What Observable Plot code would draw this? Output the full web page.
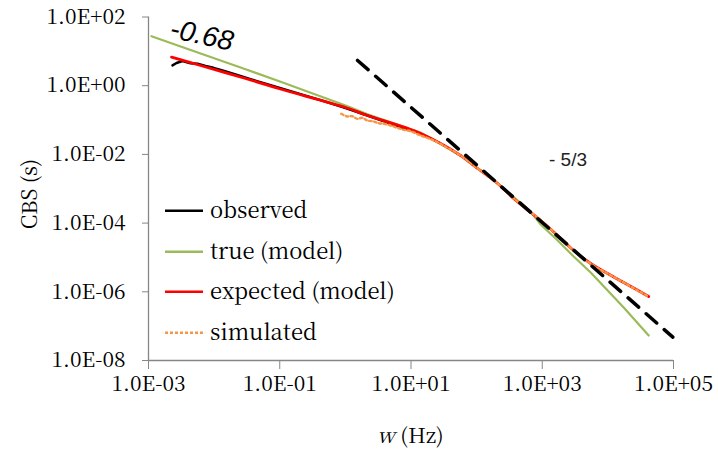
<!DOCTYPE html>
<html><head><meta charset="utf-8">
<script src="https://cdn.jsdelivr.net/npm/d3@7"></script>
<script src="https://cdn.jsdelivr.net/npm/@observablehq/plot@0.6"></script>
<style>
body{margin:0;background:#fff}
#chart{position:relative;width:718px;height:453px}
#overlay{position:absolute;left:0;top:0;pointer-events:none}
</style>
</head><body><div id="chart"></div>
<script>
// values, stored as log10(w [Hz]) and log10(CBS [s])
const xTicks = [1e-3, 1e-1, 1e1, 1e3, 1e5];
const yTicks = [1e-8, 1e-6, 1e-4, 1e-2, 1e0, 1e2];

const observedLogW   = [-2.634,-2.573,-2.482,-2.360,-2.253,-2.131,-2.009,-1.872,-1.674,-1.445,-1.140,-0.835,-0.378,0.003,0.491,0.994];
const observedLogCBS = [0.590,0.660,0.720,0.650,0.640,0.573,0.520,0.445,0.330,0.190,0.015,-0.160,-0.420,-0.649,-0.969,-1.304];

const trueLogW   = [-2.954,-2.543,-1.521,-1.018,0.003,0.338,1.146,1.756,1.954,2.320,2.600,2.823,2.976,3.235,3.479,3.738,3.997,4.241,4.622];
const trueLogCBS = [1.441,1.165,0.480,0.135,-0.576,-0.830,-1.362,-2.032,-2.323,-2.847,-3.300,-3.660,-4.041,-4.507,-4.973,-5.439,-5.963,-6.458,-7.272];

const expectedLogW   = [-2.649,-2.207,-1.521,-1.018,0.003,0.338,1.146,1.756,1.954,2.320,2.564,2.976,3.235,3.479,3.738,3.997,4.241,4.622];
const expectedLogCBS = [0.830,0.588,0.210,-0.082,-0.635,-0.868,-1.392,-2.032,-2.323,-2.847,-3.284,-3.924,-4.361,-4.798,-5.176,-5.467,-5.729,-6.137];

const simulatedLogW   = [-0.063,0.029,0.105,0.181,0.258,0.334,0.410,0.511,0.587,0.689,0.791,0.892,0.994,1.146,1.248,1.349,1.451,1.553,1.654,1.756,1.954,2.320,2.564,2.976,3.235,3.479,3.738,3.997,4.241,4.622];
const simulatedLogCBS = [-0.818,-0.897,-0.888,-0.964,-0.935,-1.013,-1.033,-1.092,-1.109,-1.159,-1.226,-1.284,-1.325,-1.450,-1.517,-1.595,-1.691,-1.808,-1.907,-2.032,-2.320,-2.850,-3.280,-3.920,-4.360,-4.800,-5.180,-5.470,-5.730,-6.140];

const slopeLineLogW   = [0.186, 4.99];
const slopeLineLogCBS = [0.735, -7.32];

const legendLabels = ["observed", "true (model)", "expected (model)", "simulated"];
const legendColors = ["#000000", "#9BBB59", "#FF0000", "#F79646"];

const table = (lw, ly) => lw.map((v, i) => ({w: 10 ** v, cbs: 10 ** ly[i]}));
const observed = table(observedLogW, observedLogCBS);
const trueModel = table(trueLogW, trueLogCBS);
const expected = table(expectedLogW, expectedLogCBS);
const simulated = table(simulatedLogW, simulatedLogCBS);
const slopeLine = table(slopeLineLogW, slopeLineLogCBS);

const fmt = v => {
  const e = Math.round(Math.log10(v));
  return "1.0E" + (e < 0 ? "-" : "+") + String(Math.abs(e)).padStart(2, "0");
};
const axisGray = "#868686";
const SERIF = "Noto Serif CJK SC";
const SANS = "Liberation Sans";

const plot = Plot.plot({
  width: 718, height: 453,
  marginLeft: 148, marginRight: 45, marginTop: 16.5, marginBottom: 93,
  style: {fontSize: "21px", background: "white", color: "black", overflow: "visible"},
  x: {type: "log", domain: [1e-3, 1e5]},
  y: {type: "log", domain: [1e-8, 1e2]},
  marks: [
    Plot.ruleX([1e-3], {stroke: axisGray, strokeWidth: 1.3}),
    Plot.ruleY([1e-8], {stroke: axisGray, strokeWidth: 1.3}),
    Plot.axisY({ticks: yTicks, tickFormat: fmt, tickSize: 6, tickPadding: 17, stroke: axisGray, fill: "black", fontSize: 21, label: null}),
    Plot.axisX({ticks: xTicks, tickFormat: fmt, tickSize: 9, tickPadding: 7, stroke: axisGray, fill: "black", fontSize: 21, label: null}),
    Plot.line(trueModel, {x: "w", y: "cbs", stroke: legendColors[1], strokeWidth: 2.2}),
    Plot.line(observed, {x: "w", y: "cbs", stroke: legendColors[0], strokeWidth: 2.5}),
    Plot.line(expected, {x: "w", y: "cbs", stroke: legendColors[2], strokeWidth: 2.8, curve: "catmull-rom"}),
    Plot.line(simulated, {x: "w", y: "cbs", stroke: legendColors[3], strokeWidth: 2.4, strokeDasharray: "2.5,2.5", curve: "catmull-rom"}),
    Plot.line(slopeLine, {x: "w", y: "cbs", stroke: "black", strokeWidth: 3.5, strokeDasharray: "14,10"})
  ]
});
const chart = document.getElementById("chart");
chart.appendChild(plot);
d3.select(plot).attr("font-family", SERIF);
d3.select(plot).selectAll("g, text").attr("font-family", SERIF).style("font-family", SERIF);

// overlay: legend, axis titles, annotations
const ov = d3.select(chart).append("svg").attr("id", "overlay").attr("width", 718).attr("height", 453);
const rowY = [210.7, 251.7, 291.7, 332.7];
legendLabels.forEach((lab, i) => {
  ov.append("line").attr("x1", 165).attr("x2", 203).attr("y1", rowY[i]).attr("y2", rowY[i])
    .attr("stroke", legendColors[i]).attr("stroke-width", 2.4)
    .attr("stroke-dasharray", i === 3 ? "3,2" : null);
  ov.append("text").attr("x", 210).attr("y", rowY[i] + 7).attr("font-family", SERIF).attr("font-size", 22).text(lab);
});
ov.append("text").attr("transform", "translate(37,194) rotate(-90)").attr("text-anchor", "middle")
  .attr("font-family", SERIF).style("font-family", SERIF).attr("font-size", 21).text("CBS (s)");
const xl = ov.append("text").attr("x", 410.5).attr("y", 443).attr("text-anchor", "middle")
  .attr("font-family", SERIF).attr("font-size", 21);
xl.append("tspan").attr("font-style", "italic").text("w");
xl.append("tspan").text(" (Hz)");
ov.append("text").attr("transform", "translate(200,44) rotate(12)").attr("text-anchor", "middle")
  .attr("font-family", SANS).attr("font-size", 28).attr("font-style", "italic").text("-0.68");
ov.append("text").attr("x", 549).attr("y", 166).attr("font-family", SANS)
  .attr("font-size", 19).attr("fill", "#222").text("- 5/3");
</script>
</body></html>
